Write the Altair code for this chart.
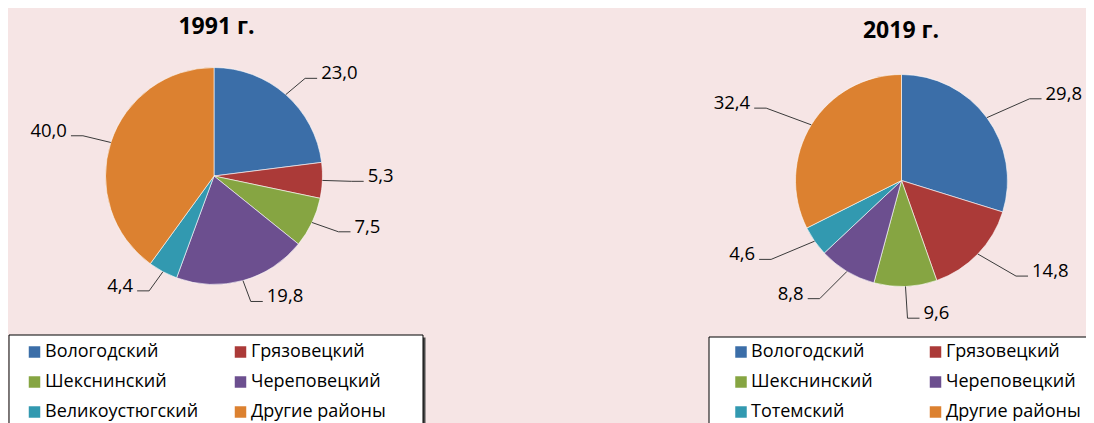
import math
import altair as alt
import pandas as pd

# ---------------- data ----------------
regions_1991 = ["Вологодский", "Грязовецкий", "Шекснинский", "Череповецкий", "Великоустюгский", "Другие районы"]
shares_1991 = [23.0, 5.3, 7.5, 19.8, 4.4, 40.0]
regions_2019 = ["Вологодский", "Грязовецкий", "Шекснинский", "Череповецкий", "Тотемский", "Другие районы"]
shares_2019 = [29.8, 14.8, 9.6, 8.8, 4.6, 32.4]
titles = ["1991 г.", "2019 г."]

color_domain = ["Вологодский", "Грязовецкий", "Шекснинский", "Череповецкий",
                "Великоустюгский", "Тотемский", "Другие районы"]
color_range = ["#3b6ea8", "#ab3a38", "#86a542", "#6c4f8f", "#3299b0", "#3299b0", "#dc8130"]

# ---------------- layout ----------------
W, H = 1078, 415
BG = "#f6e5e5"
FONT = "Open Sans"
LINE_COLOR = "#3a3a3a"

panels = [
    dict(regions=regions_1991, shares=shares_1991, title=titles[0],
         cx=206, cy=168, r=108.5, kx=1.27, ky=1.2, tx=208.5, ty=19,
         bx=1, by=327, bx2=415, sq=(25.5, 231.5), tt=(36, 242), rows=(17, 47, 77)),
    dict(regions=regions_2019, shares=shares_2019, title=titles[1],
         cx=893.5, cy=172.5, r=106, kx=1.5, ky=1.3, tx=893, ty=23,
         bx=701, by=329, bx2=1100, sq=(32, 226.5), tt=(42, 237), rows=(15, 45, 75)),
]

xs = alt.Scale(domain=[0, W], range=[0, W], zero=False, nice=False)
ys = alt.Scale(domain=[0, H], range=[0, H], zero=False, nice=False)
cscale = alt.Scale(domain=color_domain, range=color_range)


def X(f):
    return alt.X(f, type="quantitative", scale=xs, axis=None)


def Y(f):
    return alt.Y(f, type="quantitative", scale=ys, axis=None)


layers = []
for p in panels:
    df = pd.DataFrame({"name": p["regions"], "v": p["shares"], "i": range(len(p["shares"]))})
    total = sum(p["shares"])

    # leader lines and labels computed from the slice mid-angles
    pts, labs = [], []
    cum = 0.0
    for i, v in enumerate(p["shares"]):
        mid = (cum + v / 2) / total * 2 * math.pi
        cum += v
        s, c = math.sin(mid), -math.cos(mid)
        side = 1 if s >= 0 else -1
        x0, y0 = p["cx"] + p["r"] * s, p["cy"] + p["r"] * c
        x1, y1 = p["cx"] + p["kx"] * p["r"] * s, p["cy"] + p["ky"] * p["r"] * c
        x2, y2 = x1 + side * 12, y1
        for o, (xx, yy) in enumerate([(x0, y0), (x1, y1), (x2, y2)]):
            pts.append({"lid": i, "ord": o, "px": xx, "py": yy})
        labs.append({"px": x2 + side * 4, "py": y2 - 5,
                     "txt": f"{v:.1f}".replace(".", ","),
                     "side": "left" if side > 0 else "right"})
    lines_df = pd.DataFrame(pts)
    labs_df = pd.DataFrame(labs)

    arc = alt.Chart(df).mark_arc(outerRadius=p["r"], stroke="#ffffff", strokeWidth=0.6).encode(
        theta=alt.Theta("v:Q", stack=True),
        color=alt.Color("name:N", scale=cscale, legend=None),
        order=alt.Order("i:Q"),
        x=alt.value(p["cx"]),
        y=alt.value(p["cy"]),
    )
    lines = alt.Chart(lines_df).mark_line(color=LINE_COLOR, strokeWidth=1).encode(
        x=X("px"), y=Y("py"), detail="lid:N", order="ord:Q")
    lab_r = alt.Chart(labs_df[labs_df.side == "left"]).mark_text(
        align="left", baseline="middle", font=FONT, fontSize=18.5, color="#000000").encode(
        x=X("px"), y=Y("py"), text="txt:N")
    lab_l = alt.Chart(labs_df[labs_df.side == "right"]).mark_text(
        align="right", baseline="middle", font=FONT, fontSize=18.5, color="#000000").encode(
        x=X("px"), y=Y("py"), text="txt:N")
    title = alt.Chart(pd.DataFrame({"t": [p["title"]]})).mark_text(
        align="center", baseline="middle", font=FONT, fontSize=23, fontWeight="bold", color="#000000").encode(
        x=alt.value(p["tx"]), y=alt.value(p["ty"]), text="t:N")

    # legend box
    one = pd.DataFrame({"a": [0]})
    shadow = alt.Chart(one).mark_rect(fill="#4a4a4a").encode(
        x=alt.value(p["bx"] + 2.5), x2=alt.value(p["bx2"] + 2.5),
        y=alt.value(p["by"] + 2.5), y2=alt.value(H + 30))
    box = alt.Chart(one).mark_rect(fill="#ffffff", stroke="#000000", strokeWidth=1).encode(
        x=alt.value(p["bx"]), x2=alt.value(p["bx2"]),
        y=alt.value(p["by"]), y2=alt.value(H + 30))
    leg_rows = []
    for i, name in enumerate(p["regions"]):
        col, row = i % 2, i // 2
        leg_rows.append({"name": name,
                         "sx": p["bx"] + p["sq"][col], "tx": p["bx"] + p["tt"][col],
                         "py": p["by"] + p["rows"][row]})
    leg_df = pd.DataFrame(leg_rows)
    squares = alt.Chart(leg_df).mark_square(size=132, opacity=1, filled=True).encode(
        x=X("sx"), y=Y("py"), color=alt.Color("name:N", scale=cscale, legend=None))
    leg_text = alt.Chart(leg_df).mark_text(
        align="left", baseline="middle", font=FONT, fontSize=18, color="#000000").encode(
        x=X("tx"), y=Y("py"), text="name:N")

    layers += [arc, lines, lab_r, lab_l, title, shadow, box, squares, leg_text]

chart = alt.layer(*layers).properties(
    width=W, height=H, background=BG, padding=0,
    autosize=alt.AutoSizeParams(type="none"),
).resolve_scale(theta="independent").configure_view(stroke=None)

chart.save("out.html", embed_options={"renderer": "svg", "actions": False})
